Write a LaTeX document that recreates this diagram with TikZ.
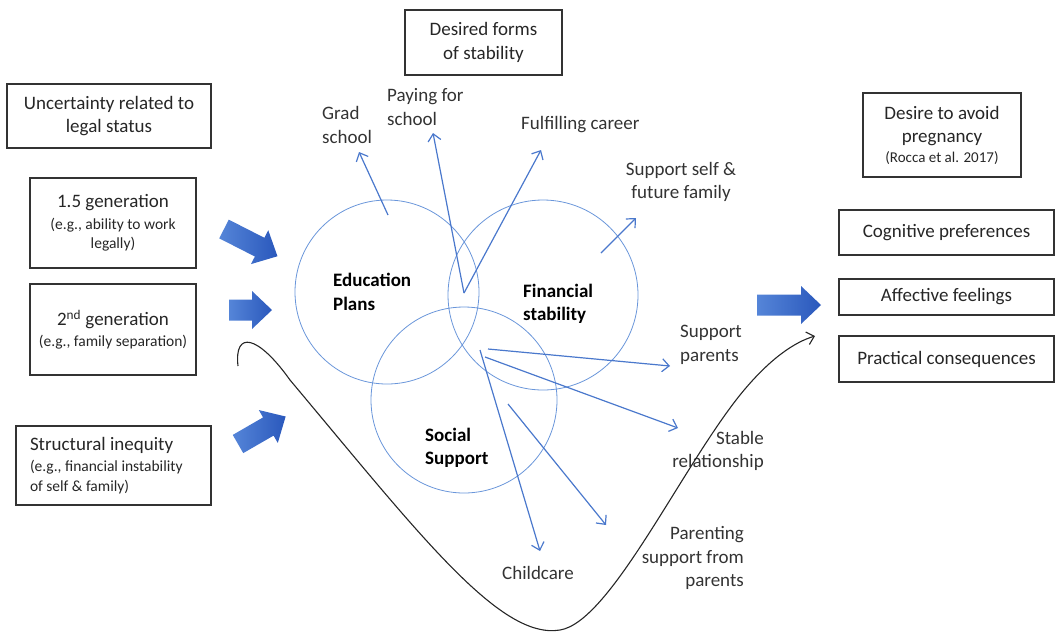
\documentclass[tikz,border=0pt]{standalone}
\usepackage{fontspec}
\setmainfont{Carlito}
\usetikzlibrary{arrows.meta}
\newcommand\bigf{\fontsize{19}{23.5}\selectfont}
\newcommand\smallf{\fontsize{15.5}{19}\selectfont}
\newcommand\tinyf{\fontsize{15}{17}\selectfont}
\definecolor{circblue}{HTML}{6A96DA}
\definecolor{arrblue}{HTML}{4A78CC}
\definecolor{blockA}{HTML}{5585D8}
\definecolor{blockB}{HTML}{2A58BC}
\definecolor{boxline}{HTML}{333333}
\tikzset{
  box/.style={draw=boxline, line width=1.4pt, align=center, inner sep=0pt, font=\bigf, text=black!85},
  lbl/.style={inner sep=0pt, font=\bigf, text=black!80},
  blbl/.style={inner sep=0pt, font=\bigf\bfseries, align=left, text=black},
  circ/.style={draw=circblue, line width=0.8pt},
  thinarr/.style={draw=arrblue, line width=1.2pt, -{Straight Barb[length=7pt,width=13pt,line width=1.2pt]}},
  curvearr/.style={draw=black!85, line width=1.1pt, -{Straight Barb[length=7pt,width=13pt,line width=1.1pt]}},
  blockarr/.style={left color=blockA, right color=blockB, draw=none}
}
\newcommand\blockarrow[4]{%
  \begin{scope}[shift={(#1,#2)}, rotate=#3]
    \shade[blockarr] (0,-10.5) -- ({#4-20},-10.5) -- ({#4-20},-19) -- (#4,0) -- ({#4-20},19) -- ({#4-20},10.5) -- (0,10.5) -- cycle;
  \end{scope}}
\begin{document}
\begin{tikzpicture}[x=1pt,y=-1pt]
\useasboundingbox (0,0) rectangle (1057,633);
% boxes
\node[box, minimum width=157, minimum height=65] (stab) at (483.5,42.5) {Desired forms\\of stability};
\node[box, minimum width=204, minimum height=64] (legal) at (109,116) {Uncertainty related to\\legal status};
\node[box, minimum width=166, minimum height=90] (gen15) at (113,223) {1.5 generation\\[-2pt]{\smallf (e.g., ability to work}\\[-4pt]{\smallf legally)}};
\node[box, minimum width=166, minimum height=91] (gen2) at (113,329.5) {2\textsuperscript{nd} generation\\[-3pt]{\smallf (e.g., family separation)}};
\node[box, minimum width=195, minimum height=79, text width=167, align=flush left, inner xsep=14pt] (struct) at (113.5,465.5) {Structural inequity\\[-2pt]{\smallf (e.g., financial instability}\\[-4pt]{\smallf of self \& family)}};
\node[box, minimum width=158, minimum height=84] (preg) at (942,135) {Desire to avoid\\pregnancy\\[-4pt]{\tinyf (Rocca et al. 2017)}};
\node[box, minimum width=215, minimum height=45] (cog) at (946.5,232.5) {Cognitive preferences};
\node[box, minimum width=215, minimum height=36] (aff) at (946.5,297) {Affective feelings};
\node[box, minimum width=215, minimum height=46] (prac) at (946.5,359) {Practical consequences};
% circles
\node[circ, circle, minimum size=184] (edu) at (387,292) {};
\node[circ, circle, minimum size=190] (fin) at (543,295) {};
\node[circ, circle, minimum size=186] (soc) at (464,400) {};
% circle labels
\node[blbl, anchor=west] (edul) at (333,292) {Education\\Plans};
\node[blbl, anchor=west] (finl) at (523,304) {Financial\\stability};
\node[blbl, anchor=west] (socl) at (425,448) {Social\\Support};
% outer labels
\node[lbl, anchor=west, align=left] (grad) at (322,125) {Grad\\school};
\node[lbl, anchor=west, align=left] (pay) at (387,107) {Paying for\\school};
\node[lbl, anchor=west] (career) at (521,125) {Fulfilling career};
\node[lbl, align=center] (selffam) at (681,182) {Support self \&\\future family};
\node[lbl, anchor=west, align=left] (suppar) at (680,345) {Support\\parents};
\node[lbl, anchor=east, align=right] (stable) at (764,451) {Stable\\relationship};
\node[lbl, anchor=east, align=right] (parenting) at (744,558) {Parenting\\support from\\parents};
\node[lbl, anchor=west] (childcare) at (502,573) {Childcare};
% thin arrow coordinates
\coordinate (gradS) at (388,215);
\coordinate (gradE) at (359,152);
\coordinate (vtip) at (464,293);
\coordinate (payE) at (433,133);
\coordinate (carE) at (541,150);
\coordinate (sfS) at (601,253);
\coordinate (sfE) at (636,218);
\coordinate (spS) at (488,349);
\coordinate (spE) at (670,366);
\coordinate (srS) at (485,357);
\coordinate (srE) at (678,428);
\coordinate (ccS) at (480,350);
\coordinate (ccE) at (540,551);
\coordinate (psS) at (508,404);
\coordinate (psE) at (606,525);
\draw[thinarr] (gradS) -- (gradE);
\draw[thinarr] (vtip) -- (payE);
\draw[thinarr] (vtip) -- (carE);
\draw[thinarr] (sfS) -- (sfE);
\draw[thinarr] (spS) -- (spE);
\draw[thinarr] (srS) -- (srE);
\draw[thinarr] (ccS) -- (ccE);
\draw[thinarr] (psS) -- (psE);
% black curve
\coordinate (cvS) at (238,366);
\coordinate (cvE) at (815,336);
\draw[curvearr] (cvS) .. controls (234,330) and (258,335) .. (290,380)
  .. controls (420,535) and (500,640) .. (560,630)
  .. controls (610,622) and (680,470) .. (740,395)
  .. controls (770,358) and (795,342) .. (cvE);
% block arrows
\blockarrow{224}{229}{-27}{60}
\blockarrow{229}{310}{0}{43}
\blockarrow{238}{444}{30}{55}
\blockarrow{757}{305}{0}{64}
\end{tikzpicture}
\end{document}
